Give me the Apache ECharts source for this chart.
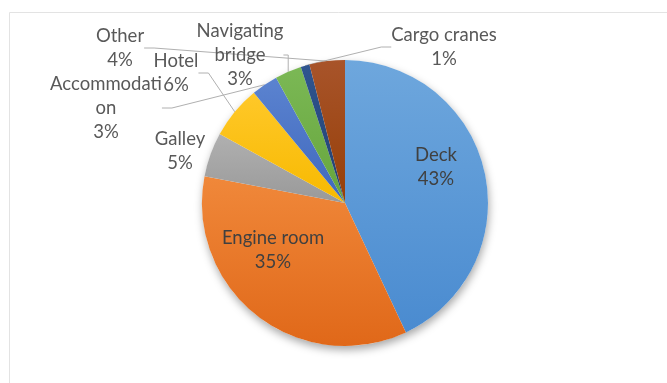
<!DOCTYPE html>
<html>
<head>
<meta charset="utf-8">
<script src="https://cdn.jsdelivr.net/npm/echarts@6/dist/echarts.min.js"></script>
<style>
  html, body { margin: 0; padding: 0; background: #ffffff; }
  #chart { width: 667px; height: 383px; }
</style>
</head>
<body>
<div id="chart"></div>
<script>
// Share of accidents by location on board (percent)
const categories = ['Deck', 'Engine room', 'Galley', 'Hotel', 'Accommodation', 'Navigating bridge', 'Cargo cranes', 'Other'];
const shares = [43, 35, 5, 6, 3, 3, 1, 4];
// Label captions as they wrap on the chart
const captions = ['Deck', 'Engine room', 'Galley', 'Hotel', 'Accommodati\non', 'Navigating\nbridge', 'Cargo cranes', 'Other'];

// Slice colours: [top, bottom] of a soft vertical gradient
const sliceColors = [
  ['#6ea7dd', '#4a8bd0'],
  ['#f0883a', '#e06819'],
  ['#b0b0b0', '#999999'],
  ['#ffc829', '#f7b900'],
  ['#5b83d0', '#3f68bd'],
  ['#7bb855', '#66a53c'],
  ['#2f5590', '#22406f'],
  ['#a8542a', '#963f08']
];

// Where each caption sits, and whether a leader line is drawn to it
const labelSpots = [
  { x: 436, y: 167, line: false },
  { x: 273, y: 250, line: false },
  { x: 180, y: 151, line: false },
  { x: 176, y: 73,  line: true },
  { x: 106, y: 108, line: true },
  { x: 240, y: 55,  line: true },
  { x: 444, y: 47,  line: true },
  { x: 120, y: 48,  line: true }
];

const total = shares.reduce((a, b) => a + b, 0);
const chart = echarts.init(document.getElementById('chart'), null, { renderer: 'canvas' });

const slices = categories.map((name, i) => ({
  name: name,
  value: shares[i],
  itemStyle: {
    color: new echarts.graphic.LinearGradient(0, 0, 0, 1, [
      { offset: 0, color: sliceColors[i][0] },
      { offset: 1, color: sliceColors[i][1] }
    ])
  },
  label: { color: i < 2 ? '#404040' : '#595959' },
  labelLine: { show: labelSpots[i].line }
}));

chart.setOption({
  animation: false,
  backgroundColor: '#ffffff',
  graphic: [{
    type: 'rect',
    shape: { x: 9.5, y: 12.5, width: 700, height: 400 },
    style: { fill: 'none', stroke: '#e3e3e3', lineWidth: 1 },
    silent: true,
    z: 0
  }],
  series: [
    {
      // soft drop shadow under the pie
      type: 'pie',
      silent: true,
      center: [345, 203],
      radius: [0, 143],
      z: 1,
      label: { show: false },
      labelLine: { show: false },
      itemStyle: {
        color: '#ffffff',
        shadowBlur: 9,
        shadowOffsetY: 4,
        shadowOffsetX: 1,
        shadowColor: 'rgba(0,0,0,0.35)'
      },
      data: [{ value: total }]
    },
    {
      type: 'pie',
      center: [345, 203],
      radius: [0, 143],
      startAngle: 90,
      clockwise: true,
      z: 2,
      itemStyle: { borderWidth: 0 },
      label: {
        show: true,
        position: 'outside',
        fontFamily: 'Lato, "Noto Sans", sans-serif',
        fontSize: 18.5,
        lineHeight: 24,
        align: 'center',
        formatter: p => captions[p.dataIndex] + '\n' + p.value + '%'
      },
      labelLine: {
        show: true,
        length: 10,
        length2: 10,
        lineStyle: { color: '#b0b0b0', width: 1 }
      },
      labelLayout: params => {
        const s = labelSpots[params.dataIndex];
        return { x: s.x, y: s.y, align: 'center', verticalAlign: 'middle', hideOverlap: false };
      },
      data: slices
    }
  ]
});
</script>
</body>
</html>
